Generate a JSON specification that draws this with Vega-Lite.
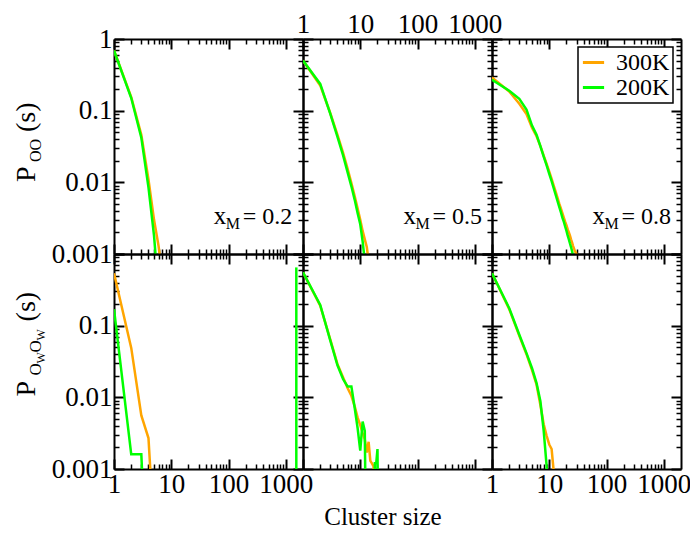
{
  "$schema": "https://vega.github.io/schema/vega-lite/v6.json",
  "padding": {"left": 13, "top": 5, "right": 5, "bottom": 5},
  "background": "white",
  "config": {
    "font": "Liberation Serif",
    "view": {"stroke": null},
    "axis": {"domainColor": "black", "domainWidth": 2, "tickColor": "black", "labelColor": "black", "labelFont": "Liberation Serif", "labelFontSize": 27, "grid": false},
    "legend": {"strokeWidth": 1.5}
  },
  "title": {"text": "Cluster size", "orient": "bottom", "anchor": "middle", "frame": "bounds", "font": "Liberation Serif", "fontSize": 25, "fontWeight": "normal", "color": "black", "offset": 3, "dx": 31},
  "resolve": {"scale": {"color": "independent"}, "legend": {"color": "independent"}},
  "datasets": {
    "curves": [
      {"p":"t1","T":"300K","s":1,"P":0.69},{"p":"t1","T":"300K","s":2,"P":0.155},{"p":"t1","T":"300K","s":3,"P":0.046},{"p":"t1","T":"300K","s":4,"P":0.011},{"p":"t1","T":"300K","s":5,"P":0.003},{"p":"t1","T":"300K","s":6,"P":0.0013},{"p":"t1","T":"300K","s":7,"P":0.0005},
      {"p":"t1","T":"200K","s":1,"P":0.69},{"p":"t1","T":"200K","s":2,"P":0.15},{"p":"t1","T":"200K","s":3,"P":0.042},{"p":"t1","T":"200K","s":4,"P":0.0085},{"p":"t1","T":"200K","s":5,"P":0.0018},{"p":"t1","T":"200K","s":6,"P":0.0003},
      {"p":"t2","T":"300K","s":1,"P":0.5},{"p":"t2","T":"300K","s":2,"P":0.225},{"p":"t2","T":"300K","s":3,"P":0.092},{"p":"t2","T":"300K","s":4,"P":0.046},{"p":"t2","T":"300K","s":5,"P":0.026},{"p":"t2","T":"300K","s":6,"P":0.0155},{"p":"t2","T":"300K","s":7,"P":0.0098},{"p":"t2","T":"300K","s":8,"P":0.0064},{"p":"t2","T":"300K","s":9,"P":0.0043},{"p":"t2","T":"300K","s":10,"P":0.003},{"p":"t2","T":"300K","s":11,"P":0.0021},{"p":"t2","T":"300K","s":12,"P":0.0016},{"p":"t2","T":"300K","s":13,"P":0.00125},{"p":"t2","T":"300K","s":14,"P":0.0008},
      {"p":"t2","T":"200K","s":1,"P":0.5},{"p":"t2","T":"200K","s":2,"P":0.236},{"p":"t2","T":"200K","s":3,"P":0.09},{"p":"t2","T":"200K","s":4,"P":0.043},{"p":"t2","T":"200K","s":5,"P":0.024},{"p":"t2","T":"200K","s":6,"P":0.0139},{"p":"t2","T":"200K","s":7,"P":0.0088},{"p":"t2","T":"200K","s":8,"P":0.0057},{"p":"t2","T":"200K","s":9,"P":0.0037},{"p":"t2","T":"200K","s":10,"P":0.0026},{"p":"t2","T":"200K","s":11,"P":0.0015},{"p":"t2","T":"200K","s":12,"P":0.0008},
      {"p":"t3","T":"300K","s":1,"P":0.29},{"p":"t3","T":"300K","s":2,"P":0.185},{"p":"t3","T":"300K","s":3,"P":0.125},{"p":"t3","T":"300K","s":4,"P":0.09},{"p":"t3","T":"300K","s":5,"P":0.058},{"p":"t3","T":"300K","s":6,"P":0.044},{"p":"t3","T":"300K","s":7,"P":0.032},{"p":"t3","T":"300K","s":8,"P":0.0235},{"p":"t3","T":"300K","s":9,"P":0.018},{"p":"t3","T":"300K","s":10,"P":0.0141},{"p":"t3","T":"300K","s":11,"P":0.0112},{"p":"t3","T":"300K","s":12,"P":0.0089},{"p":"t3","T":"300K","s":13,"P":0.0073},{"p":"t3","T":"300K","s":14,"P":0.006},{"p":"t3","T":"300K","s":15,"P":0.005},{"p":"t3","T":"300K","s":16,"P":0.0043},{"p":"t3","T":"300K","s":17,"P":0.0037},{"p":"t3","T":"300K","s":18,"P":0.0032},{"p":"t3","T":"300K","s":19,"P":0.0028},{"p":"t3","T":"300K","s":20,"P":0.0025},{"p":"t3","T":"300K","s":21,"P":0.0022},{"p":"t3","T":"300K","s":22,"P":0.002},{"p":"t3","T":"300K","s":23,"P":0.0018},{"p":"t3","T":"300K","s":24,"P":0.0016},{"p":"t3","T":"300K","s":25,"P":0.00145},{"p":"t3","T":"300K","s":26,"P":0.0013},{"p":"t3","T":"300K","s":27,"P":0.0012},{"p":"t3","T":"300K","s":28,"P":0.0011},{"p":"t3","T":"300K","s":29,"P":0.00105},{"p":"t3","T":"300K","s":30,"P":0.001},{"p":"t3","T":"300K","s":31,"P":0.0009},{"p":"t3","T":"300K","s":32,"P":0.0008},
      {"p":"t3","T":"200K","s":1,"P":0.27},{"p":"t3","T":"200K","s":2,"P":0.19},{"p":"t3","T":"200K","s":3,"P":0.146},{"p":"t3","T":"200K","s":4,"P":0.104},{"p":"t3","T":"200K","s":5,"P":0.062},{"p":"t3","T":"200K","s":6,"P":0.046},{"p":"t3","T":"200K","s":7,"P":0.032},{"p":"t3","T":"200K","s":8,"P":0.0228},{"p":"t3","T":"200K","s":9,"P":0.0172},{"p":"t3","T":"200K","s":10,"P":0.0131},{"p":"t3","T":"200K","s":11,"P":0.0104},{"p":"t3","T":"200K","s":12,"P":0.0082},{"p":"t3","T":"200K","s":13,"P":0.0066},{"p":"t3","T":"200K","s":14,"P":0.0054},{"p":"t3","T":"200K","s":15,"P":0.0045},{"p":"t3","T":"200K","s":16,"P":0.0038},{"p":"t3","T":"200K","s":17,"P":0.0032},{"p":"t3","T":"200K","s":18,"P":0.0028},{"p":"t3","T":"200K","s":19,"P":0.0024},{"p":"t3","T":"200K","s":20,"P":0.0021},{"p":"t3","T":"200K","s":21,"P":0.0018},{"p":"t3","T":"200K","s":22,"P":0.0016},{"p":"t3","T":"200K","s":23,"P":0.0014},{"p":"t3","T":"200K","s":24,"P":0.00125},{"p":"t3","T":"200K","s":25,"P":0.0011},{"p":"t3","T":"200K","s":26,"P":0.00095},{"p":"t3","T":"200K","s":27,"P":0.0008},
      {"p":"b1","T":"300K","s":1,"P":0.54},{"p":"b1","T":"300K","s":2,"P":0.049},{"p":"b1","T":"300K","s":3,"P":0.0056},{"p":"b1","T":"300K","s":4,"P":0.0027},{"p":"b1","T":"300K","s":5,"P":0.00013},
      {"p":"b1","T":"200K","s":1,"P":0.17},{"p":"b1","T":"200K","s":2,"P":0.0016},{"p":"b1","T":"200K","s":3,"P":0.0016},{"p":"b1","T":"200K","s":4,"P":0.00001},
      {"p":"b2","T":"300K","s":1,"P":0.557},{"p":"b2","T":"300K","s":2,"P":0.19},{"p":"b2","T":"300K","s":3,"P":0.064},{"p":"b2","T":"300K","s":4,"P":0.029},{"p":"b2","T":"300K","s":5,"P":0.019},{"p":"b2","T":"300K","s":6,"P":0.0135},{"p":"b2","T":"300K","s":7,"P":0.0105},{"p":"b2","T":"300K","s":8,"P":0.0075},{"p":"b2","T":"300K","s":9,"P":0.0052},{"p":"b2","T":"300K","s":10,"P":0.0041},{"p":"b2","T":"300K","s":11,"P":0.0032},{"p":"b2","T":"300K","s":12,"P":0.0026},{"p":"b2","T":"300K","s":13,"P":0.0017},{"p":"b2","T":"300K","s":14,"P":0.0024},{"p":"b2","T":"300K","s":15,"P":0.0013},{"p":"b2","T":"300K","s":16,"P":0.0012},{"p":"b2","T":"300K","s":17,"P":0.0011},{"p":"b2","T":"300K","s":18,"P":0.0005},
      {"p":"b2","T":"200K","s":0.764,"P":0.001},{"p":"b2","T":"200K","s":0.764,"P":0.65},
      {"p":"b2","T":"200K","s":1,"P":0.557},{"p":"b2","T":"200K","s":2,"P":0.195},{"p":"b2","T":"200K","s":3,"P":0.062},{"p":"b2","T":"200K","s":4,"P":0.028},{"p":"b2","T":"200K","s":5,"P":0.018},{"p":"b2","T":"200K","s":6,"P":0.0142},{"p":"b2","T":"200K","s":7,"P":0.0142},{"p":"b2","T":"200K","s":8,"P":0.0071},{"p":"b2","T":"200K","s":9,"P":0.0037},{"p":"b2","T":"200K","s":10,"P":0.0018},{"p":"b2","T":"200K","s":11,"P":0.0046},{"p":"b2","T":"200K","s":12,"P":0.0034},{"p":"b2","T":"200K","s":13,"P":0.00001},{"p":"b2","T":"200K","s":14,"P":0.00001},{"p":"b2","T":"200K","s":15,"P":0.00001},{"p":"b2","T":"200K","s":16,"P":0.00001},{"p":"b2","T":"200K","s":17,"P":0.00001},{"p":"b2","T":"200K","s":18,"P":0.0012},{"p":"b2","T":"200K","s":19,"P":0.0012},{"p":"b2","T":"200K","s":20,"P":0.0019},{"p":"b2","T":"200K","s":21,"P":0.00001},
      {"p":"b3","T":"300K","s":1,"P":0.54},{"p":"b3","T":"300K","s":2,"P":0.17},{"p":"b3","T":"300K","s":3,"P":0.072},{"p":"b3","T":"300K","s":4,"P":0.04},{"p":"b3","T":"300K","s":5,"P":0.024},{"p":"b3","T":"300K","s":6,"P":0.015},{"p":"b3","T":"300K","s":7,"P":0.0078},{"p":"b3","T":"300K","s":8,"P":0.0042},{"p":"b3","T":"300K","s":9,"P":0.0029},{"p":"b3","T":"300K","s":10,"P":0.0022},{"p":"b3","T":"300K","s":11,"P":0.0019},{"p":"b3","T":"300K","s":12,"P":0.0009},{"p":"b3","T":"300K","s":13,"P":0.00001},
      {"p":"b3","T":"200K","s":1,"P":0.54},{"p":"b3","T":"200K","s":2,"P":0.175},{"p":"b3","T":"200K","s":3,"P":0.0746},{"p":"b3","T":"200K","s":4,"P":0.0414},{"p":"b3","T":"200K","s":5,"P":0.0255},{"p":"b3","T":"200K","s":6,"P":0.0158},{"p":"b3","T":"200K","s":7,"P":0.0088},{"p":"b3","T":"200K","s":8,"P":0.0034},{"p":"b3","T":"200K","s":9,"P":0.0011},{"p":"b3","T":"200K","s":10,"P":0.00001}
    ]
  },
  "data": {"name": "curves"},
  "columns": 3,
  "spacing": 0,
  "bounds": "flush",
  "align": "all",
  "concat": [
    {
      "width": 189, "height": 215,
      "transform": [{"filter": "datum.p == 't1'"}],
      "layer": [
        {"mark": {"type": "line", "clip": true, "strokeWidth": 2.5},
         "encoding": {
           "x": {"field": "s", "type": "quantitative", "scale": {"type": "log", "domain": [1, 2000], "nice": false},
                 "axis": {"orient": "bottom", "title": null, "labels": false, "values": [1,2,3,4,5,6,7,8,9,10,20,30,40,50,60,70,80,90,100,200,300,400,500,600,700,800,900,1000],
                          "tickSize": {"condition": {"test": "indexof([1,10,100,1000], datum.value) >= 0", "value": -10}, "value": -5},
                          "tickWidth": {"condition": {"test": "indexof([1,10,100,1000], datum.value) >= 0", "value": 2}, "value": 1.5}}},
           "y": {"field": "P", "type": "quantitative", "scale": {"type": "log", "domain": [0.001, 1], "nice": false},
                 "axis": {"orient": "left", "title": null, "labels": true, "format": "~g", "labelOverlap": false, "labelFlush": false, "labelPadding": 12, "labelAlign": "right", "labelBaseline": "middle",
                          "labelExpr": "indexof([0.001,0.01,0.1,1], datum.value) >= 0 ? datum.label : ''",
                          "values": [0.001,0.002,0.003,0.004,0.005,0.006,0.007,0.008,0.009,0.01,0.02,0.03,0.04,0.05,0.06,0.07,0.08,0.09,0.1,0.2,0.3,0.4,0.5,0.6,0.7,0.8,0.9,1],
                          "tickSize": {"condition": {"test": "indexof([0.001,0.01,0.1,1], datum.value) >= 0", "value": -10}, "value": -5},
                          "tickWidth": {"condition": {"test": "indexof([0.001,0.01,0.1,1], datum.value) >= 0", "value": 2}, "value": 1.5}}},
           "color": {"field": "T", "type": "nominal", "scale": {"domain": ["300K", "200K"], "range": ["#ffa500", "#00ff00"]}, "legend": null}
         }},
        {"mark": {"type": "line", "strokeOpacity": 0, "clip": true},
         "encoding": {
           "x": {"field": "s", "type": "quantitative", "scale": {"type": "log", "domain": [1, 2000], "nice": false},
                 "axis": {"orient": "top", "title": null, "labels": false, "values": [1,2,3,4,5,6,7,8,9,10,20,30,40,50,60,70,80,90,100,200,300,400,500,600,700,800,900,1000],
                          "tickSize": {"condition": {"test": "indexof([1,10,100,1000], datum.value) >= 0", "value": -10}, "value": -5},
                          "tickWidth": {"condition": {"test": "indexof([1,10,100,1000], datum.value) >= 0", "value": 2}, "value": 1.5}}},
           "y": {"field": "P", "type": "quantitative", "scale": {"type": "log", "domain": [0.001, 1], "nice": false},
                 "axis": {"orient": "right", "title": null, "labels": false,
                          "values": [0.001,0.002,0.003,0.004,0.005,0.006,0.007,0.008,0.009,0.01,0.02,0.03,0.04,0.05,0.06,0.07,0.08,0.09,0.1,0.2,0.3,0.4,0.5,0.6,0.7,0.8,0.9,1],
                          "tickSize": {"condition": {"test": "indexof([0.001,0.01,0.1,1], datum.value) >= 0", "value": -10}, "value": -5},
                          "tickWidth": {"condition": {"test": "indexof([0.001,0.01,0.1,1], datum.value) >= 0", "value": 2}, "value": 1.5}}},
           "detail": {"field": "T"}
         }},
        {"data": {"values": [{}]}, "mark": {"type": "text", "text": "x", "align": "left", "baseline": "alphabetic", "font": "Liberation Serif", "fontSize": 25, "color": "black"},
         "encoding": {"x": {"datum": 55, "type": "quantitative", "axis": null}, "y": {"datum": 0.00265, "type": "quantitative", "axis": null}}},
        {"data": {"values": [{}]}, "mark": {"type": "text", "text": "M", "align": "left", "baseline": "alphabetic", "font": "Liberation Serif", "fontSize": 16, "dx": 12, "dy": 5, "color": "black"},
         "encoding": {"x": {"datum": 55, "type": "quantitative", "axis": null}, "y": {"datum": 0.00265, "type": "quantitative", "axis": null}}},
        {"data": {"values": [{}]}, "mark": {"type": "text", "text": "= 0.2", "align": "left", "baseline": "alphabetic", "font": "Liberation Serif", "fontSize": 24, "dx": 29, "color": "black"},
         "encoding": {"x": {"datum": 55, "type": "quantitative", "axis": null}, "y": {"datum": 0.00265, "type": "quantitative", "axis": null}}},
        {"data": {"values": [{}]}, "mark": {"type": "text", "text": "P", "align": "left", "baseline": "alphabetic", "angle": 270, "font": "Liberation Serif", "fontSize": 28, "color": "black"},
         "encoding": {"x": {"datum": 0.0418, "type": "quantitative", "axis": null}, "y": {"datum": 0.0101, "type": "quantitative", "axis": null}}},
        {"data": {"values": [{}]}, "mark": {"type": "text", "text": "OO", "align": "left", "baseline": "alphabetic", "angle": 270, "font": "Liberation Serif", "fontSize": 16, "dx": 20, "dy": 6, "color": "black"},
         "encoding": {"x": {"datum": 0.0418, "type": "quantitative", "axis": null}, "y": {"datum": 0.0101, "type": "quantitative", "axis": null}}},
        {"data": {"values": [{}]}, "mark": {"type": "text", "text": "(s)", "align": "left", "baseline": "alphabetic", "angle": 270, "font": "Liberation Serif", "fontSize": 28, "dx": 50, "color": "black"},
         "encoding": {"x": {"datum": 0.0418, "type": "quantitative", "axis": null}, "y": {"datum": 0.0101, "type": "quantitative", "axis": null}}}
      ],
      "resolve": {"axis": {"x": "independent", "y": "independent"}}
    },
    {
      "width": 189, "height": 215,
      "transform": [{"filter": "datum.p == 't2'"}],
      "layer": [
        {"mark": {"type": "line", "clip": true, "strokeWidth": 2.5},
         "encoding": {
           "x": {"field": "s", "type": "quantitative", "scale": {"type": "log", "domain": [1, 2000], "nice": false},
                 "axis": {"orient": "bottom", "title": null, "labels": false, "values": [1,2,3,4,5,6,7,8,9,10,20,30,40,50,60,70,80,90,100,200,300,400,500,600,700,800,900,1000],
                          "tickSize": {"condition": {"test": "indexof([1,10,100,1000], datum.value) >= 0", "value": -10}, "value": -5},
                          "tickWidth": {"condition": {"test": "indexof([1,10,100,1000], datum.value) >= 0", "value": 2}, "value": 1.5}}},
           "y": {"field": "P", "type": "quantitative", "scale": {"type": "log", "domain": [0.001, 1], "nice": false},
                 "axis": {"orient": "left", "title": null, "labels": false,
                          "values": [0.001,0.002,0.003,0.004,0.005,0.006,0.007,0.008,0.009,0.01,0.02,0.03,0.04,0.05,0.06,0.07,0.08,0.09,0.1,0.2,0.3,0.4,0.5,0.6,0.7,0.8,0.9,1],
                          "tickSize": {"condition": {"test": "indexof([0.001,0.01,0.1,1], datum.value) >= 0", "value": -10}, "value": -5},
                          "tickWidth": {"condition": {"test": "indexof([0.001,0.01,0.1,1], datum.value) >= 0", "value": 2}, "value": 1.5}}},
           "color": {"field": "T", "type": "nominal", "scale": {"domain": ["300K", "200K"], "range": ["#ffa500", "#00ff00"]}, "legend": null}
         }},
        {"mark": {"type": "line", "strokeOpacity": 0, "clip": true},
         "encoding": {
           "x": {"field": "s", "type": "quantitative", "scale": {"type": "log", "domain": [1, 2000], "nice": false},
                 "axis": {"orient": "top", "title": null, "labels": true, "format": "~g", "labelOverlap": false, "labelFlush": false, "labelPadding": 11, "labelBaseline": "bottom", "labelAlign": "center",
                          "labelExpr": "indexof([1,10,100,1000], datum.value) >= 0 ? datum.label : ''",
                          "values": [1,2,3,4,5,6,7,8,9,10,20,30,40,50,60,70,80,90,100,200,300,400,500,600,700,800,900,1000],
                          "tickSize": {"condition": {"test": "indexof([1,10,100,1000], datum.value) >= 0", "value": -10}, "value": -5},
                          "tickWidth": {"condition": {"test": "indexof([1,10,100,1000], datum.value) >= 0", "value": 2}, "value": 1.5}}},
           "y": {"field": "P", "type": "quantitative", "scale": {"type": "log", "domain": [0.001, 1], "nice": false},
                 "axis": {"orient": "right", "title": null, "labels": false,
                          "values": [0.001,0.002,0.003,0.004,0.005,0.006,0.007,0.008,0.009,0.01,0.02,0.03,0.04,0.05,0.06,0.07,0.08,0.09,0.1,0.2,0.3,0.4,0.5,0.6,0.7,0.8,0.9,1],
                          "tickSize": {"condition": {"test": "indexof([0.001,0.01,0.1,1], datum.value) >= 0", "value": -10}, "value": -5},
                          "tickWidth": {"condition": {"test": "indexof([0.001,0.01,0.1,1], datum.value) >= 0", "value": 2}, "value": 1.5}}},
           "detail": {"field": "T"}
         }},
        {"data": {"values": [{}]}, "mark": {"type": "text", "text": "x", "align": "left", "baseline": "alphabetic", "font": "Liberation Serif", "fontSize": 25, "color": "black"},
         "encoding": {"x": {"datum": 57, "type": "quantitative", "axis": null}, "y": {"datum": 0.00265, "type": "quantitative", "axis": null}}},
        {"data": {"values": [{}]}, "mark": {"type": "text", "text": "M", "align": "left", "baseline": "alphabetic", "font": "Liberation Serif", "fontSize": 16, "dx": 12, "dy": 5, "color": "black"},
         "encoding": {"x": {"datum": 57, "type": "quantitative", "axis": null}, "y": {"datum": 0.00265, "type": "quantitative", "axis": null}}},
        {"data": {"values": [{}]}, "mark": {"type": "text", "text": "= 0.5", "align": "left", "baseline": "alphabetic", "font": "Liberation Serif", "fontSize": 24, "dx": 29, "color": "black"},
         "encoding": {"x": {"datum": 57, "type": "quantitative", "axis": null}, "y": {"datum": 0.00265, "type": "quantitative", "axis": null}}}
      ],
      "resolve": {"axis": {"x": "independent", "y": "independent"}}
    },
    {
      "width": 189, "height": 215,
      "transform": [{"filter": "datum.p == 't3'"}],
      "layer": [
        {"mark": {"type": "line", "clip": true, "strokeWidth": 2.5},
         "encoding": {
           "x": {"field": "s", "type": "quantitative", "scale": {"type": "log", "domain": [1, 2000], "nice": false},
                 "axis": {"orient": "bottom", "title": null, "labels": false, "values": [1,2,3,4,5,6,7,8,9,10,20,30,40,50,60,70,80,90,100,200,300,400,500,600,700,800,900,1000],
                          "tickSize": {"condition": {"test": "indexof([1,10,100,1000], datum.value) >= 0", "value": -10}, "value": -5},
                          "tickWidth": {"condition": {"test": "indexof([1,10,100,1000], datum.value) >= 0", "value": 2}, "value": 1.5}}},
           "y": {"field": "P", "type": "quantitative", "scale": {"type": "log", "domain": [0.001, 1], "nice": false},
                 "axis": {"orient": "left", "title": null, "labels": false,
                          "values": [0.001,0.002,0.003,0.004,0.005,0.006,0.007,0.008,0.009,0.01,0.02,0.03,0.04,0.05,0.06,0.07,0.08,0.09,0.1,0.2,0.3,0.4,0.5,0.6,0.7,0.8,0.9,1],
                          "tickSize": {"condition": {"test": "indexof([0.001,0.01,0.1,1], datum.value) >= 0", "value": -10}, "value": -5},
                          "tickWidth": {"condition": {"test": "indexof([0.001,0.01,0.1,1], datum.value) >= 0", "value": 2}, "value": 1.5}}},
           "color": {"field": "T", "type": "nominal", "scale": {"domain": ["300K", "200K"], "range": ["#ffa500", "#00ff00"]},
                     "legend": {"title": null, "orient": "top-right", "offset": 8, "padding": 3, "strokeColor": "black", "fillColor": "white", "labelFont": "Liberation Serif", "labelFontSize": 24, "labelColor": "black", "labelOffset": 10, "symbolType": "stroke", "symbolSize": 450, "symbolStrokeWidth": 3, "rowPadding": -6}}
         }},
        {"mark": {"type": "line", "strokeOpacity": 0, "clip": true},
         "encoding": {
           "x": {"field": "s", "type": "quantitative", "scale": {"type": "log", "domain": [1, 2000], "nice": false},
                 "axis": {"orient": "top", "title": null, "labels": false, "values": [1,2,3,4,5,6,7,8,9,10,20,30,40,50,60,70,80,90,100,200,300,400,500,600,700,800,900,1000],
                          "tickSize": {"condition": {"test": "indexof([1,10,100,1000], datum.value) >= 0", "value": -10}, "value": -5},
                          "tickWidth": {"condition": {"test": "indexof([1,10,100,1000], datum.value) >= 0", "value": 2}, "value": 1.5}}},
           "y": {"field": "P", "type": "quantitative", "scale": {"type": "log", "domain": [0.001, 1], "nice": false},
                 "axis": {"orient": "right", "title": null, "labels": false,
                          "values": [0.001,0.002,0.003,0.004,0.005,0.006,0.007,0.008,0.009,0.01,0.02,0.03,0.04,0.05,0.06,0.07,0.08,0.09,0.1,0.2,0.3,0.4,0.5,0.6,0.7,0.8,0.9,1],
                          "tickSize": {"condition": {"test": "indexof([0.001,0.01,0.1,1], datum.value) >= 0", "value": -10}, "value": -5},
                          "tickWidth": {"condition": {"test": "indexof([0.001,0.01,0.1,1], datum.value) >= 0", "value": 2}, "value": 1.5}}},
           "detail": {"field": "T"}
         }},
        {"data": {"values": [{}]}, "mark": {"type": "text", "text": "x", "align": "left", "baseline": "alphabetic", "font": "Liberation Serif", "fontSize": 25, "color": "black"},
         "encoding": {"x": {"datum": 57, "type": "quantitative", "axis": null}, "y": {"datum": 0.00265, "type": "quantitative", "axis": null}}},
        {"data": {"values": [{}]}, "mark": {"type": "text", "text": "M", "align": "left", "baseline": "alphabetic", "font": "Liberation Serif", "fontSize": 16, "dx": 12, "dy": 5, "color": "black"},
         "encoding": {"x": {"datum": 57, "type": "quantitative", "axis": null}, "y": {"datum": 0.00265, "type": "quantitative", "axis": null}}},
        {"data": {"values": [{}]}, "mark": {"type": "text", "text": "= 0.8", "align": "left", "baseline": "alphabetic", "font": "Liberation Serif", "fontSize": 24, "dx": 29, "color": "black"},
         "encoding": {"x": {"datum": 57, "type": "quantitative", "axis": null}, "y": {"datum": 0.00265, "type": "quantitative", "axis": null}}}
      ],
      "resolve": {"axis": {"x": "independent", "y": "independent"}}
    },
    {
      "width": 189, "height": 215,
      "transform": [{"filter": "datum.p == 'b1'"}],
      "layer": [
        {"mark": {"type": "line", "clip": true, "strokeWidth": 2.5},
         "encoding": {
           "x": {"field": "s", "type": "quantitative", "scale": {"type": "log", "domain": [1, 2000], "nice": false},
                 "axis": {"orient": "bottom", "title": null, "labels": true, "format": "~g", "labelOverlap": false, "labelFlush": false, "labelPadding": 12, "labelBaseline": "top", "labelAlign": "center",
                          "labelExpr": "indexof([1,10,100,1000], datum.value) >= 0 ? datum.label : ''",
                          "values": [1,2,3,4,5,6,7,8,9,10,20,30,40,50,60,70,80,90,100,200,300,400,500,600,700,800,900,1000],
                          "tickSize": {"condition": {"test": "indexof([1,10,100,1000], datum.value) >= 0", "value": -10}, "value": -5},
                          "tickWidth": {"condition": {"test": "indexof([1,10,100,1000], datum.value) >= 0", "value": 2}, "value": 1.5}}},
           "y": {"field": "P", "type": "quantitative", "scale": {"type": "log", "domain": [0.001, 1], "nice": false},
                 "axis": {"orient": "left", "title": null, "labels": true, "format": "~g", "labelOverlap": false, "labelFlush": false, "labelPadding": 12, "labelAlign": "right", "labelBaseline": "middle",
                          "labelExpr": "indexof([0.001,0.01,0.1], datum.value) >= 0 ? datum.label : ''",
                          "values": [0.001,0.002,0.003,0.004,0.005,0.006,0.007,0.008,0.009,0.01,0.02,0.03,0.04,0.05,0.06,0.07,0.08,0.09,0.1,0.2,0.3,0.4,0.5,0.6,0.7,0.8,0.9,1],
                          "tickSize": {"condition": {"test": "indexof([0.001,0.01,0.1,1], datum.value) >= 0", "value": -10}, "value": -5},
                          "tickWidth": {"condition": {"test": "indexof([0.001,0.01,0.1,1], datum.value) >= 0", "value": 2}, "value": 1.5}}},
           "color": {"field": "T", "type": "nominal", "scale": {"domain": ["300K", "200K"], "range": ["#ffa500", "#00ff00"]}, "legend": null}
         }},
        {"mark": {"type": "line", "strokeOpacity": 0, "clip": true},
         "encoding": {
           "x": {"field": "s", "type": "quantitative", "scale": {"type": "log", "domain": [1, 2000], "nice": false},
                 "axis": {"orient": "top", "title": null, "labels": false, "values": [1,2,3,4,5,6,7,8,9,10,20,30,40,50,60,70,80,90,100,200,300,400,500,600,700,800,900,1000],
                          "tickSize": {"condition": {"test": "indexof([1,10,100,1000], datum.value) >= 0", "value": -10}, "value": -5},
                          "tickWidth": {"condition": {"test": "indexof([1,10,100,1000], datum.value) >= 0", "value": 2}, "value": 1.5}}},
           "y": {"field": "P", "type": "quantitative", "scale": {"type": "log", "domain": [0.001, 1], "nice": false},
                 "axis": {"orient": "right", "title": null, "labels": false,
                          "values": [0.001,0.002,0.003,0.004,0.005,0.006,0.007,0.008,0.009,0.01,0.02,0.03,0.04,0.05,0.06,0.07,0.08,0.09,0.1,0.2,0.3,0.4,0.5,0.6,0.7,0.8,0.9,1],
                          "tickSize": {"condition": {"test": "indexof([0.001,0.01,0.1,1], datum.value) >= 0", "value": -10}, "value": -5},
                          "tickWidth": {"condition": {"test": "indexof([0.001,0.01,0.1,1], datum.value) >= 0", "value": 2}, "value": 1.5}}},
           "detail": {"field": "T"}
         }},
        {"data": {"values": [{}]}, "mark": {"type": "text", "text": "P", "align": "left", "baseline": "alphabetic", "angle": 270, "font": "Liberation Serif", "fontSize": 28, "color": "black"},
         "encoding": {"x": {"datum": 0.0418, "type": "quantitative", "axis": null}, "y": {"datum": 0.0103, "type": "quantitative", "axis": null}}},
        {"data": {"values": [{}]}, "mark": {"type": "text", "text": "O", "align": "left", "baseline": "alphabetic", "angle": 270, "font": "Liberation Serif", "fontSize": 17, "dx": 21, "dy": 6, "color": "black"},
         "encoding": {"x": {"datum": 0.0418, "type": "quantitative", "axis": null}, "y": {"datum": 0.0103, "type": "quantitative", "axis": null}}},
        {"data": {"values": [{}]}, "mark": {"type": "text", "text": "W", "align": "left", "baseline": "alphabetic", "angle": 270, "font": "Liberation Serif", "fontSize": 12, "dx": 33, "dy": 10, "color": "black"},
         "encoding": {"x": {"datum": 0.0418, "type": "quantitative", "axis": null}, "y": {"datum": 0.0103, "type": "quantitative", "axis": null}}},
        {"data": {"values": [{}]}, "mark": {"type": "text", "text": "O", "align": "left", "baseline": "alphabetic", "angle": 270, "font": "Liberation Serif", "fontSize": 17, "dx": 44, "dy": 6, "color": "black"},
         "encoding": {"x": {"datum": 0.0418, "type": "quantitative", "axis": null}, "y": {"datum": 0.0103, "type": "quantitative", "axis": null}}},
        {"data": {"values": [{}]}, "mark": {"type": "text", "text": "W", "align": "left", "baseline": "alphabetic", "angle": 270, "font": "Liberation Serif", "fontSize": 12, "dx": 56, "dy": 10, "color": "black"},
         "encoding": {"x": {"datum": 0.0418, "type": "quantitative", "axis": null}, "y": {"datum": 0.0103, "type": "quantitative", "axis": null}}},
        {"data": {"values": [{}]}, "mark": {"type": "text", "text": "(s)", "align": "left", "baseline": "alphabetic", "angle": 270, "font": "Liberation Serif", "fontSize": 28, "dx": 75, "color": "black"},
         "encoding": {"x": {"datum": 0.0418, "type": "quantitative", "axis": null}, "y": {"datum": 0.0103, "type": "quantitative", "axis": null}}}
      ],
      "resolve": {"axis": {"x": "independent", "y": "independent"}}
    },
    {
      "width": 189, "height": 215,
      "transform": [{"filter": "datum.p == 'b2'"}],
      "layer": [
        {"transform": [{"filter": "datum.s >= 1"}],
         "mark": {"type": "line", "clip": true, "strokeWidth": 2.5},
         "encoding": {
           "x": {"field": "s", "type": "quantitative", "scale": {"type": "log", "domain": [1, 2000], "nice": false},
                 "axis": {"orient": "bottom", "title": null, "labels": false, "values": [1,2,3,4,5,6,7,8,9,10,20,30,40,50,60,70,80,90,100,200,300,400,500,600,700,800,900,1000],
                          "tickSize": {"condition": {"test": "indexof([1,10,100,1000], datum.value) >= 0", "value": -10}, "value": -5},
                          "tickWidth": {"condition": {"test": "indexof([1,10,100,1000], datum.value) >= 0", "value": 2}, "value": 1.5}}},
           "y": {"field": "P", "type": "quantitative", "scale": {"type": "log", "domain": [0.001, 1], "nice": false},
                 "axis": {"orient": "left", "title": null, "labels": false,
                          "values": [0.001,0.002,0.003,0.004,0.005,0.006,0.007,0.008,0.009,0.01,0.02,0.03,0.04,0.05,0.06,0.07,0.08,0.09,0.1,0.2,0.3,0.4,0.5,0.6,0.7,0.8,0.9,1],
                          "tickSize": {"condition": {"test": "indexof([0.001,0.01,0.1,1], datum.value) >= 0", "value": -10}, "value": -5},
                          "tickWidth": {"condition": {"test": "indexof([0.001,0.01,0.1,1], datum.value) >= 0", "value": 2}, "value": 1.5}}},
           "color": {"field": "T", "type": "nominal", "scale": {"domain": ["300K", "200K"], "range": ["#ffa500", "#00ff00"]}, "legend": null}
         }},
        {"transform": [{"filter": "datum.s < 1"}],
         "mark": {"type": "line", "clip": false, "strokeWidth": 2.5},
         "encoding": {
           "x": {"field": "s", "type": "quantitative", "scale": {"type": "log", "domain": [1, 2000], "nice": false}, "axis": null},
           "y": {"field": "P", "type": "quantitative", "scale": {"type": "log", "domain": [0.001, 1], "nice": false}, "axis": null},
           "color": {"field": "T", "type": "nominal", "scale": {"domain": ["300K", "200K"], "range": ["#ffa500", "#00ff00"]}, "legend": null}
         }},
        {"mark": {"type": "line", "strokeOpacity": 0, "clip": true},
         "encoding": {
           "x": {"field": "s", "type": "quantitative", "scale": {"type": "log", "domain": [1, 2000], "nice": false},
                 "axis": {"orient": "top", "title": null, "labels": false, "values": [1,2,3,4,5,6,7,8,9,10,20,30,40,50,60,70,80,90,100,200,300,400,500,600,700,800,900,1000],
                          "tickSize": {"condition": {"test": "indexof([1,10,100,1000], datum.value) >= 0", "value": -10}, "value": -5},
                          "tickWidth": {"condition": {"test": "indexof([1,10,100,1000], datum.value) >= 0", "value": 2}, "value": 1.5}}},
           "y": {"field": "P", "type": "quantitative", "scale": {"type": "log", "domain": [0.001, 1], "nice": false},
                 "axis": {"orient": "right", "title": null, "labels": false,
                          "values": [0.001,0.002,0.003,0.004,0.005,0.006,0.007,0.008,0.009,0.01,0.02,0.03,0.04,0.05,0.06,0.07,0.08,0.09,0.1,0.2,0.3,0.4,0.5,0.6,0.7,0.8,0.9,1],
                          "tickSize": {"condition": {"test": "indexof([0.001,0.01,0.1,1], datum.value) >= 0", "value": -10}, "value": -5},
                          "tickWidth": {"condition": {"test": "indexof([0.001,0.01,0.1,1], datum.value) >= 0", "value": 2}, "value": 1.5}}},
           "detail": {"field": "T"}
         }}
      ],
      "resolve": {"axis": {"x": "independent", "y": "independent"}}
    },
    {
      "width": 189, "height": 215,
      "transform": [{"filter": "datum.p == 'b3'"}],
      "layer": [
        {"mark": {"type": "line", "clip": true, "strokeWidth": 2.5},
         "encoding": {
           "x": {"field": "s", "type": "quantitative", "scale": {"type": "log", "domain": [1, 2000], "nice": false},
                 "axis": {"orient": "bottom", "title": null, "labels": true, "format": "~g", "labelOverlap": false, "labelFlush": false, "labelPadding": 12, "labelBaseline": "top", "labelAlign": "center",
                          "labelExpr": "indexof([1,10,100,1000], datum.value) >= 0 ? datum.label : ''",
                          "values": [1,2,3,4,5,6,7,8,9,10,20,30,40,50,60,70,80,90,100,200,300,400,500,600,700,800,900,1000],
                          "tickSize": {"condition": {"test": "indexof([1,10,100,1000], datum.value) >= 0", "value": -10}, "value": -5},
                          "tickWidth": {"condition": {"test": "indexof([1,10,100,1000], datum.value) >= 0", "value": 2}, "value": 1.5}}},
           "y": {"field": "P", "type": "quantitative", "scale": {"type": "log", "domain": [0.001, 1], "nice": false},
                 "axis": {"orient": "left", "title": null, "labels": false,
                          "values": [0.001,0.002,0.003,0.004,0.005,0.006,0.007,0.008,0.009,0.01,0.02,0.03,0.04,0.05,0.06,0.07,0.08,0.09,0.1,0.2,0.3,0.4,0.5,0.6,0.7,0.8,0.9,1],
                          "tickSize": {"condition": {"test": "indexof([0.001,0.01,0.1,1], datum.value) >= 0", "value": -10}, "value": -5},
                          "tickWidth": {"condition": {"test": "indexof([0.001,0.01,0.1,1], datum.value) >= 0", "value": 2}, "value": 1.5}}},
           "color": {"field": "T", "type": "nominal", "scale": {"domain": ["300K", "200K"], "range": ["#ffa500", "#00ff00"]}, "legend": null}
         }},
        {"mark": {"type": "line", "strokeOpacity": 0, "clip": true},
         "encoding": {
           "x": {"field": "s", "type": "quantitative", "scale": {"type": "log", "domain": [1, 2000], "nice": false},
                 "axis": {"orient": "top", "title": null, "labels": false, "values": [1,2,3,4,5,6,7,8,9,10,20,30,40,50,60,70,80,90,100,200,300,400,500,600,700,800,900,1000],
                          "tickSize": {"condition": {"test": "indexof([1,10,100,1000], datum.value) >= 0", "value": -10}, "value": -5},
                          "tickWidth": {"condition": {"test": "indexof([1,10,100,1000], datum.value) >= 0", "value": 2}, "value": 1.5}}},
           "y": {"field": "P", "type": "quantitative", "scale": {"type": "log", "domain": [0.001, 1], "nice": false},
                 "axis": {"orient": "right", "title": null, "labels": false,
                          "values": [0.001,0.002,0.003,0.004,0.005,0.006,0.007,0.008,0.009,0.01,0.02,0.03,0.04,0.05,0.06,0.07,0.08,0.09,0.1,0.2,0.3,0.4,0.5,0.6,0.7,0.8,0.9,1],
                          "tickSize": {"condition": {"test": "indexof([0.001,0.01,0.1,1], datum.value) >= 0", "value": -10}, "value": -5},
                          "tickWidth": {"condition": {"test": "indexof([0.001,0.01,0.1,1], datum.value) >= 0", "value": 2}, "value": 1.5}}},
           "detail": {"field": "T"}
         }}
      ],
      "resolve": {"axis": {"x": "independent", "y": "independent"}}
    }
  ]
}
